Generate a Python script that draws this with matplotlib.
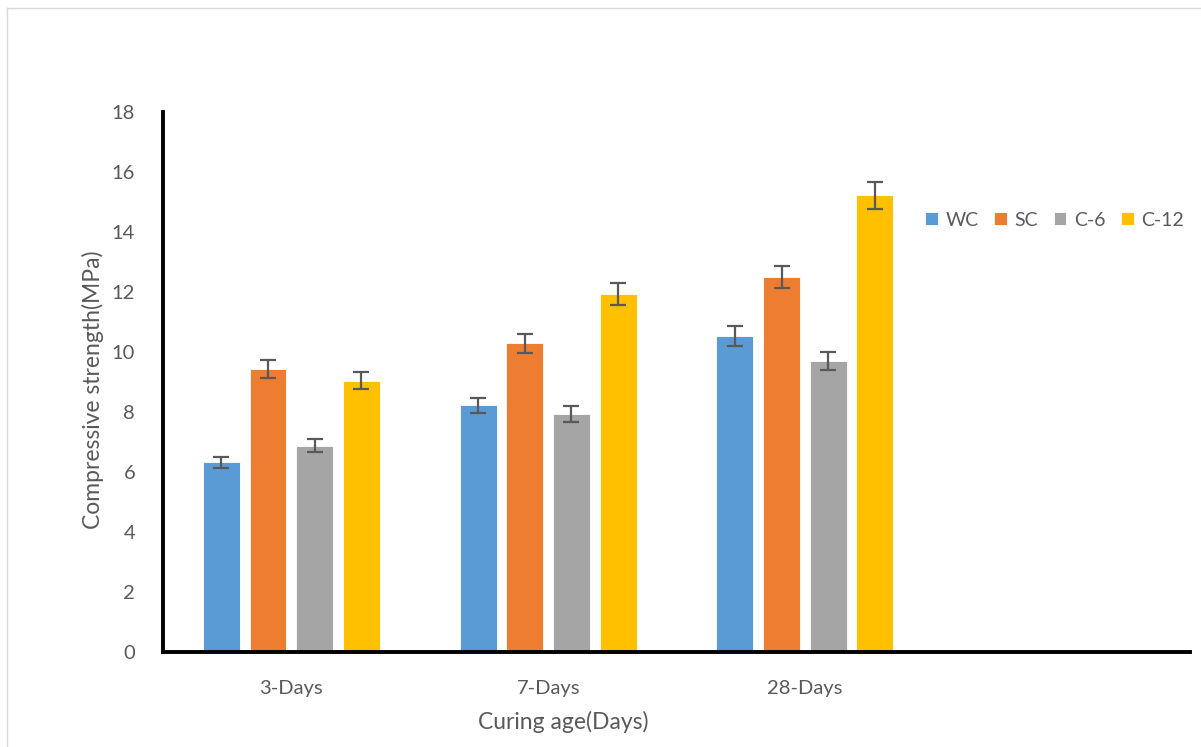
import matplotlib.pyplot as plt
import numpy as np
from matplotlib.lines import Line2D

plt.rcParams['font.family'] = ['Lato', 'DejaVu Sans']

# data
ages = ['3-Days', '7-Days', '28-Days', '']
series = ['WC', 'SC', 'C-6', 'C-12']
wc = [6.32, 8.22, 10.54]
sc = [9.44, 10.29, 12.49]
c6 = [6.88, 7.94, 9.70]
c12 = [9.04, 11.93, 15.22]
wc_err = [0.19, 0.26, 0.33]
sc_err = [0.30, 0.31, 0.37]
c6_err = [0.21, 0.27, 0.30]
c12_err = [0.28, 0.37, 0.45]

colors = ['#5B9BD5', '#ED7D31', '#A5A5A5', '#FFC000']
grey = '#595959'

fig = plt.figure(figsize=(12.01, 7.47), dpi=100)
W, H = 1201, 747
ax = fig.add_axes([163 / W, 1 - 652 / H, (1190 - 163) / W, (652 - 112) / H])

x = np.arange(3)
width = 0.144
pitch = 0.182
vals = [wc, sc, c6, c12]
errs = [wc_err, sc_err, c6_err, c12_err]
for i, (v, e) in enumerate(zip(vals, errs)):
    off = (i - 1.5) * pitch
    ax.bar(x + off, v, width, color=colors[i], label=series[i],
           edgecolor='white', linewidth=0.6, zorder=2)
    ax.errorbar(x + off, v, yerr=e, fmt='none', ecolor=grey, elinewidth=1.6,
                capsize=5.5, capthick=1.6, zorder=3)

ax.set_xlim(-0.5, 3.5)
ax.set_ylim(0, 18)
ax.set_yticks(np.arange(0, 19, 2))
ax.set_xticks(np.arange(4))
ax.set_xticklabels(ages)
ax.tick_params(axis='both', length=0, labelsize=14.5, labelcolor=grey)
ax.tick_params(axis='y', pad=20)
ax.tick_params(axis='x', pad=20)
for s in ['top', 'right']:
    ax.spines[s].set_visible(False)
for s in ['left', 'bottom']:
    ax.spines[s].set_linewidth(2.8)
    ax.spines[s].set_color('black')

fig.text(93 / W, 1 - 390 / H, 'Compressive strength(MPa)', rotation=90,
         ha='center', va='center', fontsize=16.5, color=grey)
fig.text(563 / W, 1 - 722 / H, 'Curing age(Days)', ha='center', va='center',
         fontsize=16.5, color=grey)

leg = fig.legend(loc='center left', bbox_to_anchor=(925 / W, 1 - 220 / H),
                 ncol=4, frameon=False, fontsize=14, handlelength=0.65,
                 handleheight=0.65, handletextpad=0.4, columnspacing=0.8,
                 borderpad=0, borderaxespad=0)
for t in leg.get_texts():
    t.set_color(grey)

# chart area border (top and left edges only visible in the crop)
fig.add_artist(Line2D([6.5 / W, 1], [1 - 7.5 / H, 1 - 7.5 / H],
                      transform=fig.transFigure, color='#d9d9d9', lw=1))
fig.add_artist(Line2D([6.5 / W, 6.5 / W], [0, 1 - 7.5 / H],
                      transform=fig.transFigure, color='#d9d9d9', lw=1))

fig.savefig('out.png', dpi=100)
